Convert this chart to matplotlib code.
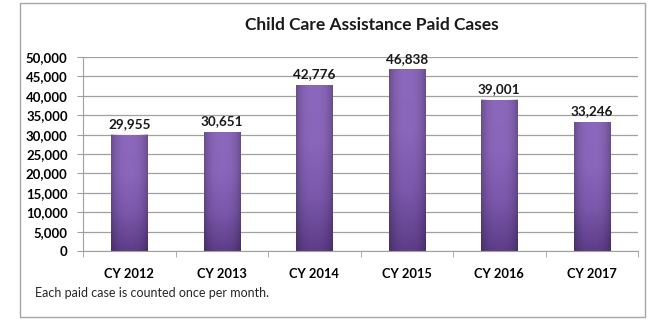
import matplotlib
matplotlib.use("Agg")
import matplotlib.pyplot as plt
import numpy as np
from matplotlib.ticker import FuncFormatter, FixedLocator
from matplotlib.patches import Rectangle
from matplotlib.colors import LinearSegmentedColormap

categories = ["CY 2012", "CY 2013", "CY 2014", "CY 2015", "CY 2016", "CY 2017"]
values = [29955, 30651, 42776, 46838, 39001, 33246]
yticks = list(range(0, 50001, 5000))
title = "Child Care Assistance Paid Cases"
note = "Each paid case is counted once per month."

plt.rcParams['font.family'] = ['Lato', 'DejaVu Sans']

fig = plt.figure(figsize=(6.54, 3.19), dpi=100)
W, H = 654, 319
ax = fig.add_axes([83 / W, 1 - 251 / H, (638 - 83) / W, (251 - 57) / H])

# outer border
fig.patches.append(Rectangle((20 / W, 2 / H), (645 - 20) / W, (316 - 2) / H,
                             transform=fig.transFigure, fill=False,
                             edgecolor="#a6a6a6", linewidth=1.0))

x = np.arange(len(categories))
bars = ax.bar(x, values, width=0.39, color="#7a57a8", zorder=2)

grad = np.linspace(0, 1, 256).reshape(-1, 1)
cmap = LinearSegmentedColormap.from_list("p", ["#5d3d88", "#7b58ab", "#8b66bb", "#8a68ba"])
hgrad = np.linspace(0, 1, 64)
for b in bars:
    x0, y0 = b.get_x(), b.get_y()
    w, h = b.get_width(), b.get_height()
    b.set_facecolor("none")
    img = ax.imshow(grad, extent=(x0, x0 + w, y0, y0 + h), origin="lower",
                    cmap=cmap, aspect="auto", zorder=2)
    img.set_clip_path(b)
    shade = np.abs(hgrad - 0.5).reshape(1, -1) * 2
    rgba = np.zeros((1, 64, 4))
    rgba[..., 3] = shade ** 3 * 0.25
    ax.imshow(rgba, extent=(x0, x0 + w, y0, y0 + h), aspect="auto", zorder=2.1)

for xi, v in zip(x, values):
    ax.text(xi, v + 1200, f"{v:,}", ha="center", va="bottom",
            fontsize=9.7, fontweight="bold", color="#1a1a1a", zorder=3)

ax.set_xlim(-0.5, len(categories) - 0.5)
ax.set_ylim(0, 50000)
ax.set_yticks(yticks)
ax.yaxis.set_major_formatter(FuncFormatter(lambda v, p: f"{int(v):,}"))
ax.grid(axis="y", color="#a0a0a0", linewidth=0.9, zorder=0)
ax.set_axisbelow(True)

ax.set_xticks(x)
ax.set_xticklabels(categories, fontsize=9.3, fontweight="bold")
ax.xaxis.set_minor_locator(FixedLocator(np.arange(-0.5, len(categories), 1.0)))
ax.tick_params(axis="x", which="major", length=0, pad=12)
ax.tick_params(axis="x", which="minor", length=4, color="#a0a0a0")
ax.tick_params(axis="y", length=4, color="#a0a0a0", labelsize=9.5, pad=7)
for lab in ax.get_yticklabels():
    lab.set_fontweight("bold")

for s in ["top", "right"]:
    ax.spines[s].set_visible(False)
ax.spines["left"].set_color("#a0a0a0")
ax.spines["bottom"].set_color("#a0a0a0")

fig.text(372 / W, 1 - 25 / H, title, ha="center", va="center",
         fontsize=12.5, fontweight="bold", color="#1a1a1a")
fig.text(35 / W, 1 - 293 / H, note, ha="left", va="center",
         fontsize=9, color="#262626")

fig.savefig("out.png", dpi=100)
